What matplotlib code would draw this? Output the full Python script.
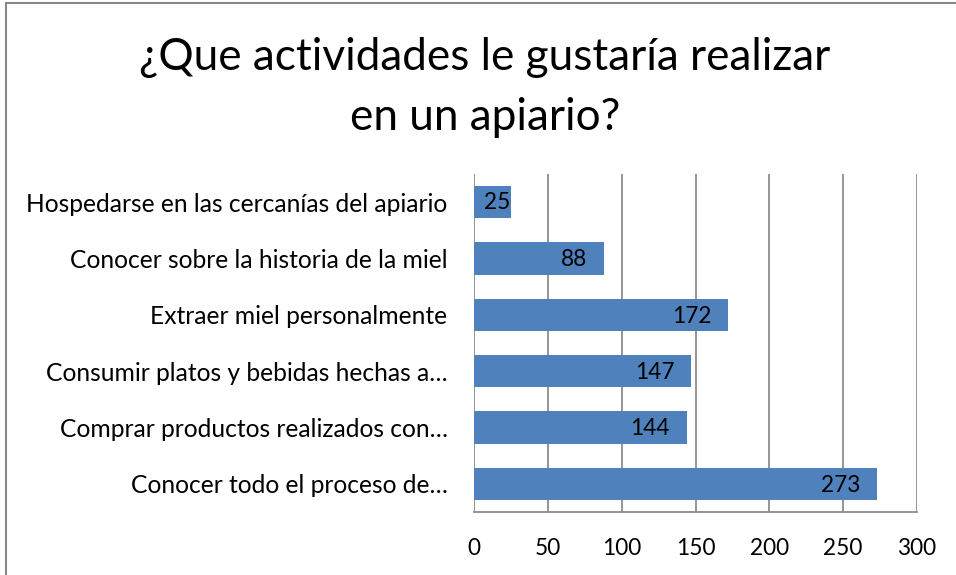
import matplotlib.pyplot as plt
from matplotlib.lines import Line2D

categories = [
    "Hospedarse en las cercanías del apiario",
    "Conocer sobre la historia de la miel",
    "Extraer miel personalmente",
    "Consumir platos y bebidas hechas a…",
    "Comprar productos realizados con…",
    "Conocer todo el proceso de…",
]
values = [25, 88, 172, 147, 144, 273]
xticks = [0, 50, 100, 150, 200, 250, 300]

plt.rcParams['font.family'] = ['Lato', 'DejaVu Sans']

fig = plt.figure(figsize=(9.56, 5.75), dpi=100)
ax = fig.add_axes([474 / 956, 1 - 512 / 575, 443 / 956, 338 / 575])

pos = list(range(len(categories)))
ax.barh(pos, values, height=0.57, color='#4F81BD', zorder=3)
ax.set_ylim(len(categories) - 0.5, -0.5)
ax.set_xlim(0, 300)
ax.set_xticks(xticks)
ax.set_yticks(pos)
ax.set_yticklabels(categories, fontsize=17.7)
ax.tick_params(axis='x', labelsize=16.3, length=0, pad=19)
ax.tick_params(axis='y', length=0, pad=19)

ax.grid(axis='x', color='#8c8c8c', linewidth=1.3, zorder=0)
for side in ['top', 'left', 'right']:
    ax.spines[side].set_visible(False)
ax.spines['bottom'].set_color('#8c8c8c')
ax.spines['bottom'].set_linewidth(1.3)

# value labels at the inside end of each bar; short bars get a centred label
for p, v in zip(pos, values):
    if v < 40:
        ax.text(v / 2 + 3, p, str(v), ha='center', va='center', fontsize=16.3, zorder=4)
    else:
        ax.annotate(str(v), (v, p), xytext=(-12, -1), textcoords='offset points',
                    ha='right', va='center', fontsize=16.3, zorder=4)

fig.text(0.507, 1 - 58 / 575, "¿Que actividades le gustaría realizar",
         ha='center', va='center', fontsize=31.8)
fig.text(0.507, 1 - 118 / 575, "en un apiario?",
         ha='center', va='center', fontsize=31.8)

# chart area border (only left and top visible in the crop)
fig.add_artist(Line2D([6 / 956, 6 / 956], [0, 1 - 3 / 575], transform=fig.transFigure,
                      color='#888888', linewidth=1.5))
fig.add_artist(Line2D([6 / 956, 1], [1 - 3 / 575, 1 - 3 / 575], transform=fig.transFigure,
                      color='#888888', linewidth=1.5))

fig.savefig('out.png', dpi=100)
